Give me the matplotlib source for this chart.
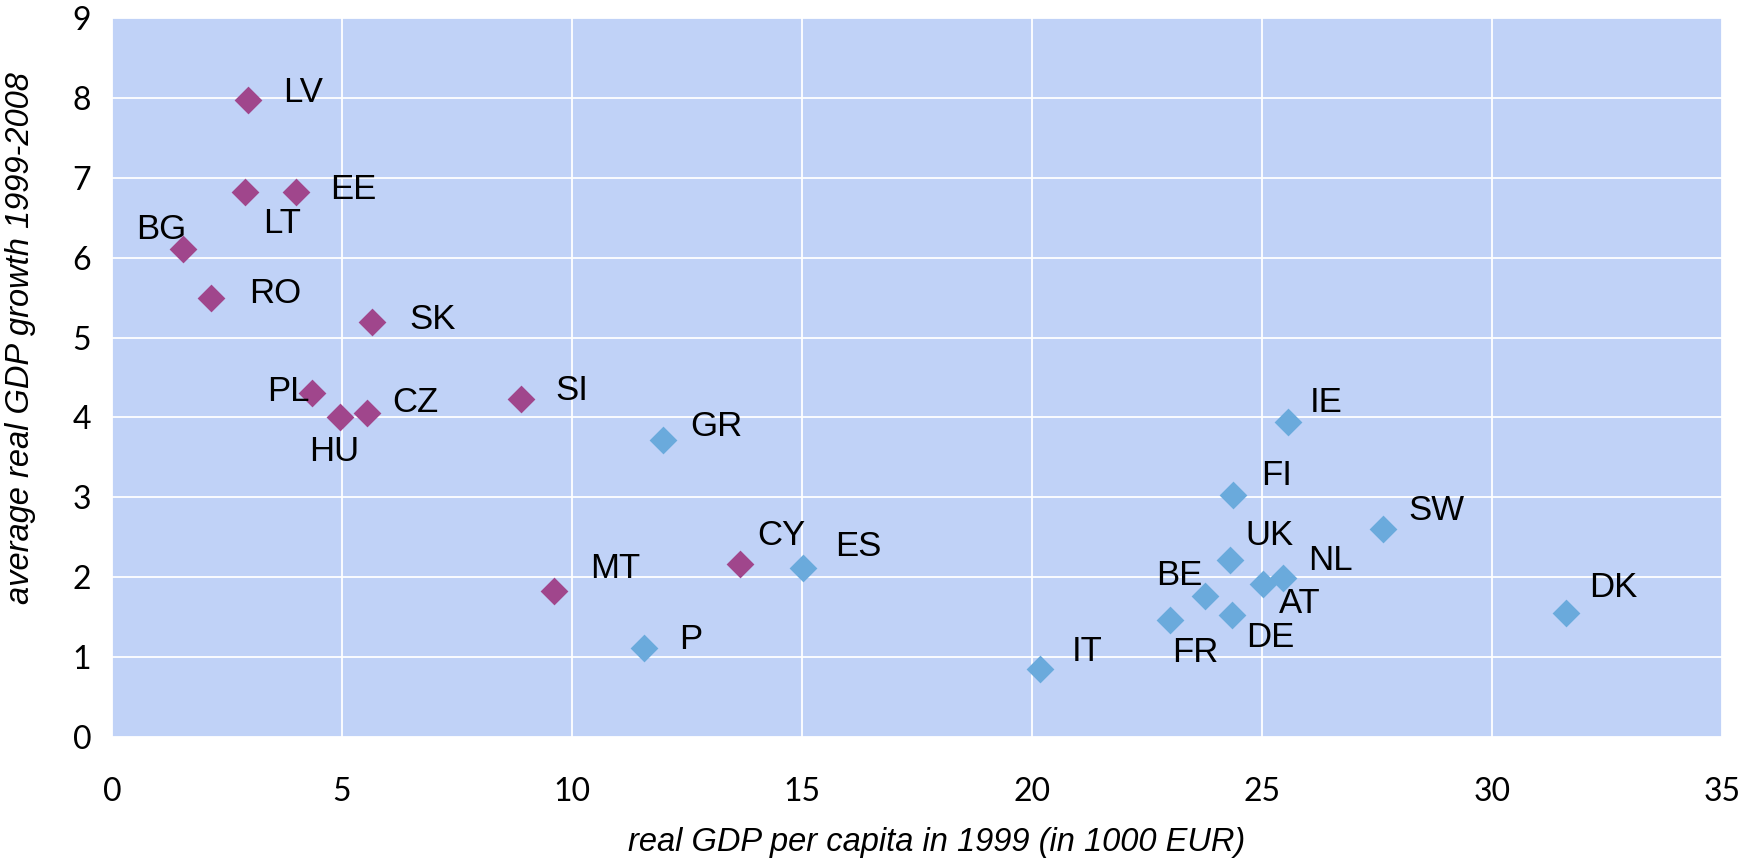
import matplotlib
matplotlib.use("Agg")
import matplotlib.pyplot as plt

# new member states (purple)
new_codes = ['LV', 'LT', 'EE', 'BG', 'RO', 'SK', 'PL', 'HU', 'CZ', 'SI', 'MT', 'CY']
new_gdp = [2.95, 2.9, 4.0, 1.55, 2.15, 5.65, 4.35, 4.95, 5.55, 8.9, 9.6, 13.65]
new_growth = [7.97, 6.82, 6.82, 6.11, 5.5, 5.19, 4.3, 4.0, 4.05, 4.23, 1.83, 2.17]

# old member states (blue)
old_codes = ['GR', 'ES', 'P', 'IT', 'FR', 'BE', 'DE', 'UK', 'FI', 'AT', 'NL', 'IE', 'SW', 'DK']
old_gdp = [11.98, 15.02, 11.57, 20.18, 22.99, 23.75, 24.35, 24.31, 24.38, 25.02, 25.45, 25.57, 27.62, 31.6]
old_growth = [3.72, 2.12, 1.11, 0.85, 1.46, 1.77, 1.53, 2.21, 3.03, 1.92, 1.99, 3.94, 2.6, 1.55]

x_ticks = [0, 5, 10, 15, 20, 25, 30, 35]
y_ticks = [0, 1, 2, 3, 4, 5, 6, 7, 8, 9]

# label offsets in pixels (left edge of text, vertical centre)
offsets = {
    'LV': (35, 8), 'LT': (18, -31), 'EE': (34, 3), 'BG': (-47, 19), 'RO': (38, 4),
    'SK': (37, 3), 'PL': (-45, 2), 'HU': (-31, -34), 'CZ': (25, 11), 'SI': (34, 9),
    'MT': (37, 22), 'CY': (17, 28), 'GR': (27, 13), 'ES': (32, 21), 'P': (35, 9),
    'IT': (31, 18), 'FR': (3, -32), 'BE': (-48, 20), 'DE': (14, -23), 'UK': (15, 25),
    'FI': (28, 19), 'AT': (16, -20), 'NL': (25, 18), 'IE': (22, 20), 'SW': (26, 19),
    'DK': (24, 26),
}

purple = '#A0468C'
blue = '#6AAADC'
bg = '#C0D2F7'

fig = plt.figure(figsize=(17.56, 8.64), dpi=100)
ax = fig.add_axes([112 / 1756, 127 / 864, 1610 / 1756, 719 / 864])
ax.set_facecolor(bg)

ax.scatter(new_gdp, new_growth, marker='D', s=200, color=purple, linewidths=0, zorder=3)
ax.scatter(old_gdp, old_growth, marker='D', s=200, color=blue, linewidths=0, zorder=3)

for codes, xs, ys in [(new_codes, new_gdp, new_growth), (old_codes, old_gdp, old_growth)]:
    for c, x, y in zip(codes, xs, ys):
        ax.annotate(c, (x, y), xytext=offsets[c], textcoords='offset pixels',
                    ha='left', va='center', fontsize=25, family='Liberation Sans',
                    zorder=4)

ax.set_xlim(0, 35)
ax.set_ylim(0, 9)
ax.set_xticks(x_ticks)
ax.set_yticks(y_ticks)
ax.grid(True, color='white', linewidth=1.3)
ax.set_axisbelow(True)
for sp in ax.spines.values():
    sp.set_visible(False)
ax.tick_params(length=0, labelsize=23)
ax.tick_params(axis='x', pad=29)
ax.tick_params(axis='y', pad=15)
for lab in ax.get_xticklabels() + ax.get_yticklabels():
    lab.set_family('Lato')

ax.set_xlabel('real GDP per capita in 1999 (in 1000 EUR)', fontsize=23.5,
              family='Liberation Sans', style='italic', va='center', ha='center')
ax.xaxis.set_label_coords(0.512, -0.147)
ax.set_ylabel('average real GDP growth 1999-2008', fontsize=23.5,
              family='Liberation Sans', style='italic', va='center', ha='center')
ax.yaxis.set_label_coords(-0.057, 0.555)

fig.savefig('out.png', dpi=100)
